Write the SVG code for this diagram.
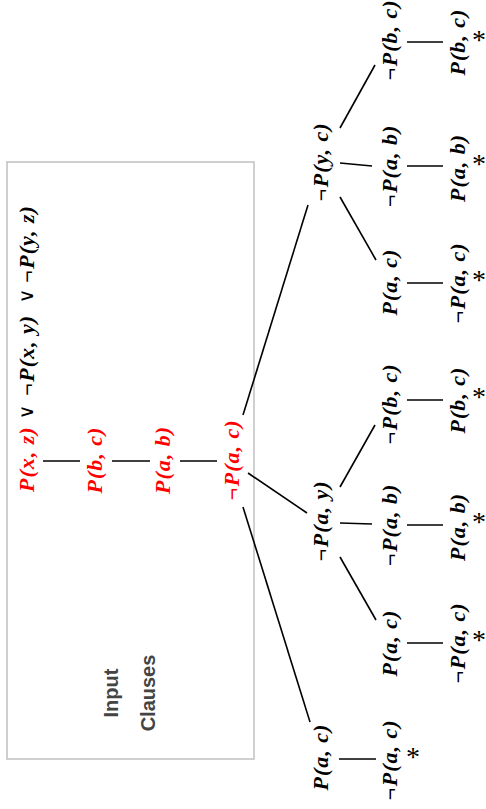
<svg xmlns="http://www.w3.org/2000/svg" width="486" height="809" viewBox="0 0 486 809">
  <style>
    .lbl { font-family: "Liberation Serif", "DejaVu Serif", serif; font-size: 22px; font-weight: bold; font-style: italic; letter-spacing: 1px; text-anchor: middle; fill: #000; }
    .start { text-anchor: start; }
    .red { fill: #ff0000; }
    .or { font-family: "DejaVu Sans", sans-serif; font-size: 20px; text-anchor: middle; fill: #000; }
    .edge { stroke: #000; stroke-width: 1.6; fill: none; }
    .star { font-family: "Liberation Serif", serif; font-size: 28px; text-anchor: middle; fill: #000; }
    .cap { font-family: "Liberation Sans", Arial, sans-serif; font-size: 20px; font-weight: bold; text-anchor: middle; fill: #444; }
    .box { fill: none; stroke: #c0c0c0; stroke-width: 1.5; }
  </style>

  <!-- input clause frame -->
  <g id="input-clauses">
    <rect class="box" x="7" y="162" width="247" height="597"/>
    <g transform="translate(111,693) rotate(-90)">
      <text class="cap" x="0" y="7">Input</text>
      <text class="cap" x="0" y="44">Clauses</text>
    </g>
  </g>

  <!-- connectors -->
  <g id="edges">
    <line class="edge" x1="43" y1="461" x2="80" y2="461"/>
    <line class="edge" x1="112" y1="461" x2="150" y2="461"/>
    <line class="edge" x1="180" y1="461" x2="217" y2="461"/>

    <line class="edge" x1="243" y1="415" x2="308" y2="205"/>
    <line class="edge" x1="248" y1="473" x2="307" y2="513"/>
    <line class="edge" x1="243" y1="507" x2="310" y2="722"/>

    <line class="edge" x1="340" y1="128" x2="375" y2="65"/>
    <line class="edge" x1="340" y1="163" x2="372" y2="166"/>
    <line class="edge" x1="340" y1="197" x2="376" y2="260"/>

    <line class="edge" x1="340" y1="487" x2="375" y2="425"/>
    <line class="edge" x1="340" y1="523" x2="372" y2="524"/>
    <line class="edge" x1="340" y1="557" x2="376" y2="620"/>

    <line class="edge" x1="339" y1="759" x2="376" y2="759"/>

    <line class="edge" x1="407" y1="42" x2="443" y2="42"/>
    <line class="edge" x1="407" y1="166" x2="443" y2="166"/>
    <line class="edge" x1="407" y1="283" x2="443" y2="283"/>
    <line class="edge" x1="407" y1="400" x2="443" y2="400"/>
    <line class="edge" x1="407" y1="525" x2="443" y2="525"/>
    <line class="edge" x1="407" y1="643" x2="443" y2="643"/>
  </g>

  <!-- input clauses -->
  <g id="clause-1" transform="translate(27,492) rotate(-90)">
    <text class="lbl start red" x="0" y="7">P(x, z)</text>
    <text class="or" x="80" y="6">∨</text>
    <text class="lbl start" x="96" y="7">¬P(x, y)</text>
    <text class="or" x="196" y="6">∨</text>
    <text class="lbl start" x="209" y="7">¬P(y, z)</text>
  </g>
  <g id="clause-2" transform="translate(95,460) rotate(-90)"><text class="lbl red" x="0" y="7">P(b, c)</text></g>
  <g id="clause-3" transform="translate(163,460) rotate(-90)"><text class="lbl red" x="0" y="7">P(a, b)</text></g>
  <g id="root" transform="translate(232,460) rotate(-90)"><text class="lbl red" x="0" y="7">¬P(a, c)</text></g>

  <!-- first level -->
  <g id="n-yc" transform="translate(321,162) rotate(-90)"><text class="lbl" x="0" y="7">¬P(y, c)</text></g>
  <g id="n-ay" transform="translate(321,521) rotate(-90)"><text class="lbl" x="0" y="7">¬P(a, y)</text></g>
  <g id="n-ac" transform="translate(321,757) rotate(-90)"><text class="lbl" x="0" y="7">P(a, c)</text></g>

  <!-- second level -->
  <g id="n-yc-1" transform="translate(390,40) rotate(-90)"><text class="lbl" x="0" y="7">¬P(b, c)</text></g>
  <g id="n-yc-2" transform="translate(390,166) rotate(-90)"><text class="lbl" x="0" y="7">¬P(a, b)</text></g>
  <g id="n-yc-3" transform="translate(390,282) rotate(-90)"><text class="lbl" x="0" y="7">P(a, c)</text></g>
  <g id="n-ay-1" transform="translate(390,404) rotate(-90)"><text class="lbl" x="0" y="7">¬P(b, c)</text></g>
  <g id="n-ay-2" transform="translate(390,525) rotate(-90)"><text class="lbl" x="0" y="7">¬P(a, b)</text></g>
  <g id="n-ay-3" transform="translate(390,643) rotate(-90)"><text class="lbl" x="0" y="7">P(a, c)</text></g>
  <g id="n-ac-1" transform="translate(390,760) rotate(-90)"><text class="lbl" x="0" y="7">¬P(a, c)</text></g>

  <!-- leaves -->
  <g id="l-1" transform="translate(458,42) rotate(-90)"><text class="lbl" x="0" y="7">P(b, c)</text></g>
  <g id="l-2" transform="translate(458,168) rotate(-90)"><text class="lbl" x="0" y="7">P(a, b)</text></g>
  <g id="l-3" transform="translate(458,283) rotate(-90)"><text class="lbl" x="0" y="7">¬P(a, c)</text></g>
  <g id="l-4" transform="translate(458,400) rotate(-90)"><text class="lbl" x="0" y="7">P(b, c)</text></g>
  <g id="l-5" transform="translate(458,527) rotate(-90)"><text class="lbl" x="0" y="7">P(a, b)</text></g>
  <g id="l-6" transform="translate(458,643) rotate(-90)"><text class="lbl" x="0" y="7">¬P(a, c)</text></g>

  <!-- closed branches -->
  <g id="stars">
    <text class="star" x="479" y="49">*</text>
    <text class="star" x="479" y="173">*</text>
    <text class="star" x="479" y="289">*</text>
    <text class="star" x="479" y="406">*</text>
    <text class="star" x="479" y="531">*</text>
    <text class="star" x="479" y="649">*</text>
    <text class="star" x="413" y="766">*</text>
  </g>
</svg>
